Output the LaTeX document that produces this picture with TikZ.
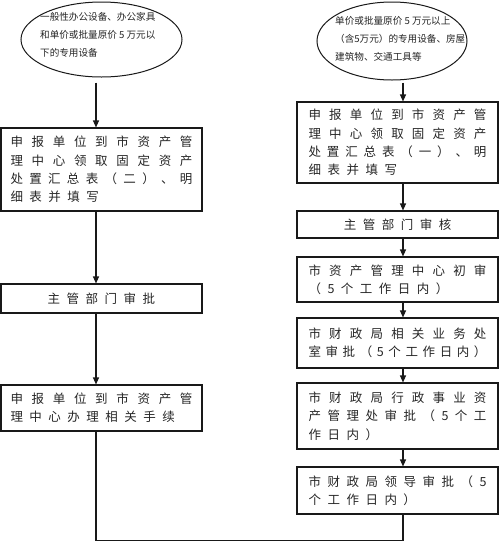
\documentclass[tikz,border=0pt]{standalone}
\usepackage{fontspec}
\newfontfamily\cjk{Noto Sans CJK SC}
\usetikzlibrary{arrows.meta,shapes.geometric}
\newcommand\jl[2]{{\spaceskip=0pt plus 1fil\relax\makebox[#1][s]{#2}}}
\newcommand\nl[1]{{\spaceskip=6.5pt\relax#1}}
\begin{document}
\begin{tikzpicture}[x=1pt,y=-1pt,
  line/.style={draw=black!90, line width=1.1pt},
  arr/.style={line, -{Triangle[length=7pt,width=6pt]}},
  oval/.style={ellipse, draw=black!90, line width=1pt, inner sep=0pt},
  otxt/.style={align=left, font=\cjk\fontsize{9.6}{18}\selectfont, text=black!85, inner sep=0pt, anchor=west},
  stepbox/.style={draw=black!90, line width=1.1pt, rectangle, minimum width=201pt, align=left,
    font=\cjk\fontsize{12.5}{18.3}\selectfont, text=black!85, inner xsep=0pt, inner ysep=0pt},
]
\useasboundingbox (0,0) rectangle (500,542);
\fill[white] (0,0) rectangle (500,542);

% ellipses
\node[oval, minimum width=161pt, minimum height=75pt] (e1) at (101.5,39.5) {};
\node[otxt] (e1t) at (40,35) {一般性办公设备、办公家具\\和单价或批量原价 5 万元以\\下的专用设备};
\node[oval, minimum width=150pt, minimum height=78pt] (e2) at (392,41) {};
\node[otxt] (e2t) at (335,39) {单价或批量原价 5 万元以上\\（含5万元）的专用设备、房屋\\建筑物、交通工具等};

% left column
\node[stepbox, text width=182pt, minimum height=83pt] (L1) at (101.5,169.5)
  {\jl{182pt}{申 报 单 位 到 市 资 产 管}\\ \jl{182pt}{理 中 心 领 取 固 定 资 产}\\ \jl{182pt}{处 置 汇 总 表 （ 二 ） 、 明}\\ \nl{细 表 并 填 写}};
\node[stepbox, align=center, minimum height=29pt] (L2) at (101.5,298.5) {\nl{主 管 部 门 审 批}};
\node[stepbox, text width=182pt, minimum height=46pt] (L3) at (101.5,408)
  {\jl{182pt}{申 报 单 位 到 市 资 产 管}\\ \nl{理 中 心 办 理 相 关 手 续}};

% right column
\node[stepbox, text width=178pt, minimum height=81pt] (R1) at (397.5,142.5)
  {\jl{178pt}{申 报 单 位 到 市 资 产 管}\\ \jl{178pt}{理 中 心 领 取 固 定 资 产}\\ \jl{178pt}{处 置 汇 总 表 （ 一 ） 、 明}\\ \nl{细 表 并 填 写}};
\node[stepbox, align=center, minimum height=27pt] (R2) at (397.5,224.5) {\nl{主 管 部 门 审 核}};
\node[stepbox, text width=178pt, minimum height=45pt] (R3) at (397.5,279.5)
  {\jl{178pt}{市 资 产 管 理 中 心 初 审}\\ \nl{（ 5 个 工 作 日 内 ）}};
\node[stepbox, text width=178pt, minimum height=50pt] (R4) at (397.5,343)
  {\jl{178pt}{市 财 政 局 相 关 业 务 处}\\ \jl{178pt}{室 审 批 （ 5 个 工 作 日 内 ）}};
\node[stepbox, text width=178pt, minimum height=66pt] (R5) at (397.5,416)
  {\jl{178pt}{市 财 政 局 行 政 事 业 资}\\ \jl{178pt}{产 管 理 处 审 批 （ 5 个 工}\\ \nl{作 日 内 ）}};
\node[stepbox, text width=178pt, minimum height=47pt] (R6) at (397.5,490.5)
  {\jl{178pt}{市 财 政 局 领 导 审 批 （ 5}\\ \nl{个 工 作 日 内 ）}};

% connectors
\coordinate (lx) at (96,0);
\coordinate (rx) at (403,0);
\coordinate (bot) at (0,540.5);
\draw[arr, shorten <=5pt] (e1.south -| lx) -- (L1.north -| lx);
\draw[arr] (L1.south -| lx) -- (L2.north -| lx);
\draw[arr] (L2.south -| lx) -- (L3.north -| lx);
\draw[arr, shorten <=2pt] (e2.south -| rx) -- (R1.north -| rx);
\draw[arr] (R1.south -| rx) -- (R2.north -| rx);
\draw[arr] (R2.south -| rx) -- (R3.north -| rx);
\draw[arr] (R3.south -| rx) -- (R4.north -| rx);
\draw[arr] (R4.south -| rx) -- (R5.north -| rx);
\draw[arr] (R5.south -| rx) -- (R6.north -| rx);
\draw[line] (L3.south -| lx) -- (bot -| lx) -- (bot -| rx) -- (R6.south -| rx);
\end{tikzpicture}
\end{document}
